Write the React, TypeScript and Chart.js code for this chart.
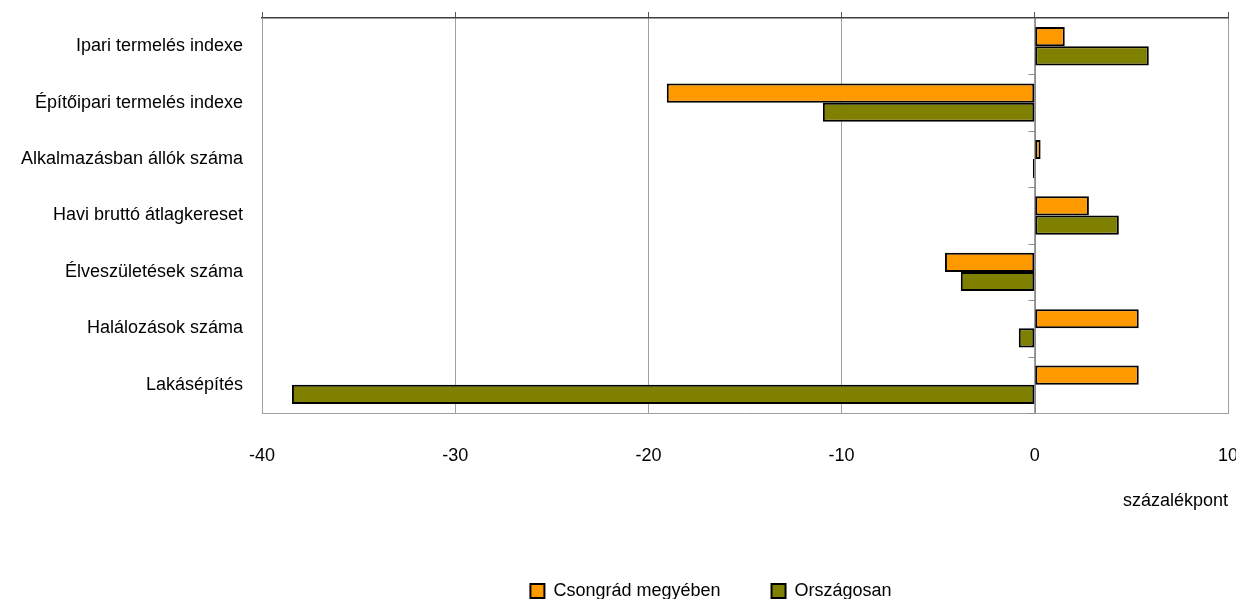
import React, { useEffect, useRef } from "react";
import { Chart, registerables } from "chart.js";

Chart.register(...registerables);

const categories = [
  "Ipari termelés indexe",
  "Építőipari termelés indexe",
  "Alkalmazásban állók száma",
  "Havi bruttó átlagkereset",
  "Élveszületések száma",
  "Halálozások száma",
  "Lakásépítés",
];
const csongradValues = [1.55, -19.05, 0.3, 2.8, -4.65, 5.38, 5.38];
const orszagosValues = [5.9, -10.97, -0.1, 4.35, -3.83, -0.83, -38.45];
const seriesNames = ["Csongrád megyében", "Országosan"];
const xMin = -40;
const xMax = 10;
const xStep = 10;
const xTitle = "százalékpont";

const FONT = "'Liberation Sans', Arial, sans-serif";

const zeroLinePlugin = {
  id: "zeroLine",
  beforeDatasetsDraw(chart: any) {
    const { ctx, chartArea, scales } = chart;
    const xs = scales.x;
    const ys = scales.y;
    const x0 = Math.round(xs.getPixelForValue(0)) + 0.5;
    ctx.save();
    ctx.strokeStyle = "#8c8c8c";
    ctx.lineWidth = 1;
    ctx.beginPath();
    ctx.moveTo(x0, chartArea.top);
    ctx.lineTo(x0, chartArea.bottom);
    for (let i = 1; i <= categories.length; i++) {
      const y = Math.round(ys.getPixelForValue(i - 0.5)) + 0.5;
      ctx.moveTo(x0 - 7, y);
      ctx.lineTo(x0, y);
    }
    ctx.stroke();
    ctx.restore();
  },
};

const legendShiftPlugin = {
  id: "legendShift",
  afterLayout(chart: any) {
    if (chart.legend) {
      chart.legend.left += 97;
      chart.legend.right += 97;
    }
  },
};

export default function App() {
  const ref = useRef<HTMLCanvasElement | null>(null);
  useEffect(() => {
    if (!ref.current) return;
    const chart = new Chart(ref.current, {
      type: "bar",
      data: {
        labels: categories,
        datasets: [
          {
            label: seriesNames[0],
            data: csongradValues,
            backgroundColor: "#FF9900",
            borderColor: "#000000",
            borderWidth: 2,
            borderSkipped: false,
            categoryPercentage: 0.68,
            barPercentage: 1,
          },
          {
            label: seriesNames[1],
            data: orszagosValues,
            backgroundColor: "#808000",
            borderColor: "#000000",
            borderWidth: 2,
            borderSkipped: false,
            categoryPercentage: 0.68,
            barPercentage: 1,
          },
        ],
      },
      options: {
        indexAxis: "y",
        animation: false,
        responsive: true,
        maintainAspectRatio: false,
        layout: { padding: { top: 0, right: 8, left: 0, bottom: 0 } },
        font: { family: FONT, size: 18 },
        plugins: {
          legend: {
            position: "bottom",
            labels: {
              boxWidth: 14,
              boxHeight: 14,
              padding: 51,
              color: "#000",
              font: { family: FONT, size: 18 },
            },
          },
          tooltip: { enabled: false },
        },
        scales: {
          x: {
            type: "linear",
            position: "bottom",
            min: xMin,
            max: xMax,
            ticks: {
              stepSize: xStep,
              padding: 32,
              color: "#000",
              font: { family: FONT, size: 18 },
            },
            grid: { color: "#a0a0a0", lineWidth: 1, drawTicks: false },
            border: { display: true, color: "#a0a0a0", width: 1 },
            title: {
              display: true,
              text: xTitle,
              align: "end",
              color: "#000",
              font: { family: FONT, size: 18 },
              padding: { top: 0, bottom: 19 },
            },
            afterFit(scale: any) {
              scale.height = 118;
              scale.paddingRight = 8;
            },
          },
          x2: {
            type: "linear",
            position: "top",
            min: xMin,
            max: xMax,
            ticks: { display: false, stepSize: xStep },
            grid: {
              drawOnChartArea: false,
              drawTicks: true,
              tickLength: 6,
              color: "#555",
            },
            border: { display: true, color: "#404040", width: 1.5 },
            afterFit(scale: any) {
              scale.height = 18;
            },
          },
          y: {
            type: "category",
            ticks: {
              padding: 19,
              color: "#000",
              font: { family: FONT, size: 18 },
            },
            grid: { display: false, drawTicks: false },
            border: { display: true, color: "#a0a0a0", width: 1 },
            afterFit(scale: any) {
              scale.width = 262;
              scale.paddingTop = 0;
              scale.paddingBottom = 0;
            },
          },
        },
      },
      plugins: [zeroLinePlugin, legendShiftPlugin],
    });
    return () => chart.destroy();
  }, []);

  return (
    <div
      style={{
        position: "absolute",
        left: 0,
        top: 0,
        width: 1236,
        height: 599,
        overflow: "hidden",
        background: "#fff",
      }}
    >
      <div style={{ position: "relative", width: 1236, height: 610 }}>
        <canvas ref={ref} />
      </div>
    </div>
  );
}
